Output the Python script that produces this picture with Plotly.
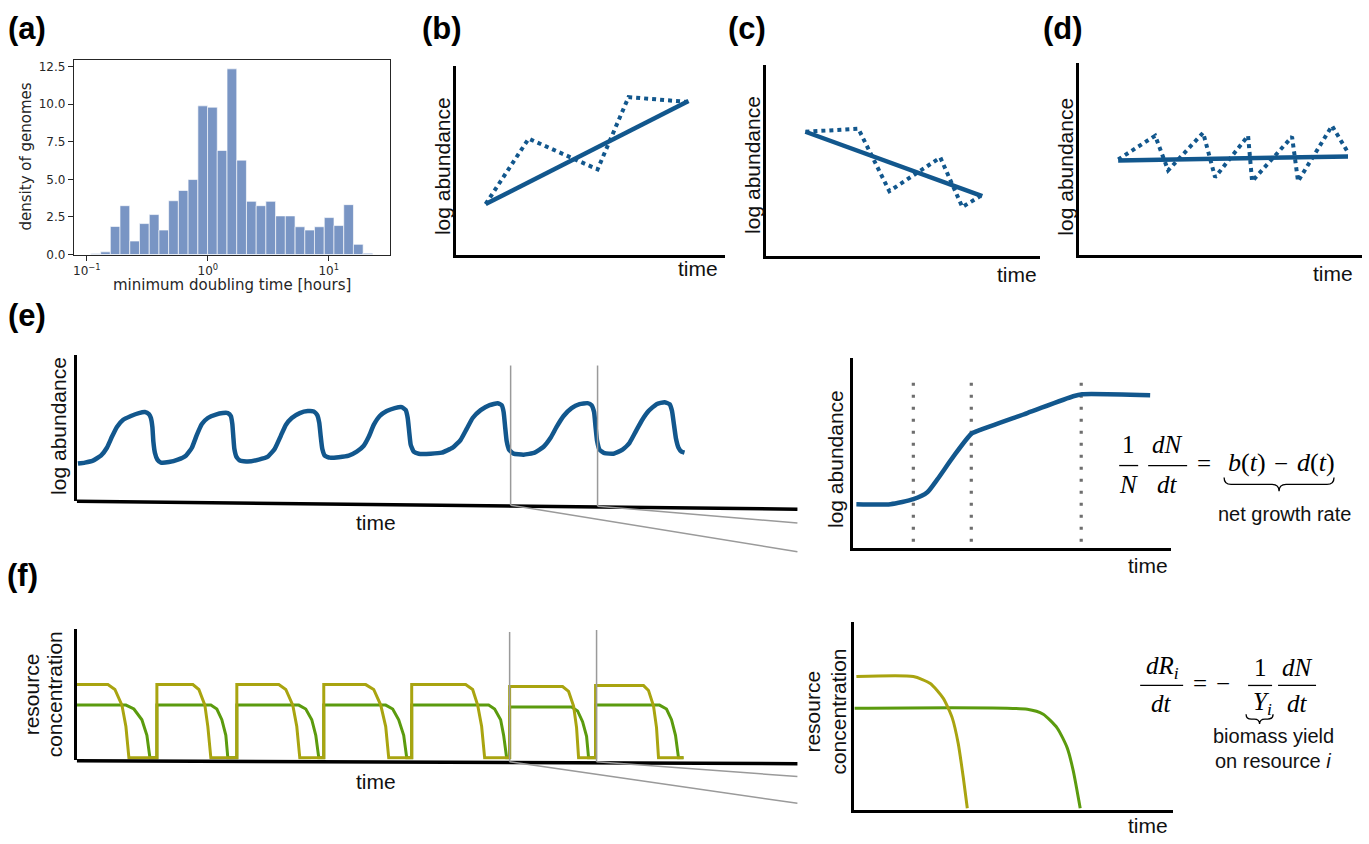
import plotly.graph_objects as go

W, H = 1369, 844

# ---------------- data ----------------
# (a) histogram of minimum doubling times (log10 hours bin centres, density)
hist_bin_centers_log10 = [-0.927, -0.846, -0.766, -0.686, -0.605, -0.525, -0.444, -0.364, -0.284,
                          -0.203, -0.123, -0.042, 0.038, 0.118, 0.199, 0.279, 0.360, 0.440,
                          0.520, 0.601, 0.681, 0.762, 0.842, 0.922, 1.003, 1.083, 1.164, 1.244, 1.324]
hist_density = [0.07, 0.18, 1.87, 3.25, 0.90, 2.06, 2.66, 1.63, 3.58, 4.26, 4.99, 9.89, 9.80,
                6.92, 12.35, 6.28, 3.54, 3.25, 3.54, 2.57, 2.57, 1.85, 1.63, 1.85, 2.46, 1.93,
                3.32, 0.68, 0.09]
hist_bin_width_log10 = 0.0804
hist_tick_vals = [-1, 0, 1]
hist_tick_text = ["10<sup>−1</sup>", "10<sup>0</sup>", "10<sup>1</sup>"]
hist_y_ticks = [0, 2.5, 5, 7.5, 10, 12.5]

# (b) growing population
b_trend_t = [3.0, 23.3]
b_trend_y = [5.1, 15.5]
b_fluct_t = [3.0, 7.3, 14.2, 17.3, 23.3]
b_fluct_y = [5.1, 11.7, 8.6, 15.9, 15.4]
# (c) declining population
c_trend_t = [3.9, 21.6]
c_trend_y = [12.5, 6.0]
c_fluct_t = [3.9, 9.2, 12.3, 17.4, 19.6, 21.4]
c_fluct_y = [12.5, 12.8, 6.5, 9.9, 4.9, 6.0]
# (d) steady population
d_trend_t = [3.9, 26.9]
d_trend_y = [9.5, 9.9]
d_fluct_t = [3.9, 7.6, 8.9, 12.4, 13.6, 16.9, 17.3, 21.3, 21.9, 25.3, 26.9]
d_fluct_y = [9.6, 12.0, 8.5, 12.3, 7.8, 12.0, 7.4, 11.9, 7.4, 13.0, 10.3]

# (e) serial dilution: log abundance over many cycles
e_time = [0.1, 0.8, 1.6, 2.4, 3.0, 3.5, 4.0, 4.6, 5.4, 6.2, 6.8, 7.2, 7.4, 7.55, 7.65, 7.8, 8.05, 8.4, 9.2,
          10.1, 10.9, 11.5, 12.0, 12.5, 13.1, 13.9, 14.6, 15.1, 15.4, 15.55, 15.65, 15.75, 15.95, 16.3, 17.1,
          18.2, 19.1, 19.8, 20.4, 20.9, 21.5, 22.3, 23.1, 23.7, 24.05, 24.25, 24.4, 24.55, 24.8, 25.3, 26.2,
          27.2, 28.0, 28.7, 29.2, 29.7, 30.3, 31.0, 31.8, 32.5, 32.9, 33.1, 33.25, 33.4, 33.7, 34.2, 35.4,
          36.5, 37.6, 38.4, 39.0, 39.6, 40.4, 41.3, 42.1, 42.5, 42.7, 42.85, 43.0, 43.25, 43.7, 44.7,
          45.8, 46.7, 47.4, 48.0, 48.7, 49.5, 50.3, 51.1, 51.5, 51.75, 51.9, 52.05, 52.3, 52.8, 53.7,
          54.6, 55.3, 55.9, 56.5, 57.2, 58.0, 58.8, 59.3, 59.55, 59.75, 59.95, 60.2, 60.5, 60.8]
e_logN = [3.8, 3.9, 4.1, 4.6, 5.4, 6.5, 7.5, 8.2, 8.6, 8.9, 9.0, 8.8, 8.4, 7.5, 6.0, 4.9, 4.2, 3.9, 3.95,
          4.2, 4.6, 5.4, 6.7, 7.8, 8.4, 8.75, 8.9, 8.9, 8.6, 7.8, 6.5, 5.3, 4.5, 4.1, 4.0,
          4.2, 4.5, 5.3, 6.6, 7.7, 8.4, 8.9, 9.1, 9.05, 8.7, 7.9, 6.5, 5.3, 4.6, 4.4, 4.45,
          4.6, 5.0, 5.6, 6.5, 7.7, 8.6, 9.1, 9.4, 9.5, 9.2, 8.4, 7.0, 5.7, 5.0, 4.8, 4.8,
          4.9, 5.4, 6.2, 7.3, 8.4, 9.2, 9.7, 9.9, 9.7, 9.0, 7.5, 6.1, 5.2, 4.8, 4.7,
          4.9, 5.5, 6.4, 7.5, 8.6, 9.4, 9.8, 9.9, 9.7, 9.0, 7.5, 6.1, 5.2, 4.85, 4.8,
          5.2, 5.9, 7.0, 8.1, 9.1, 9.8, 10.0, 9.8, 9.1, 7.7, 6.3, 5.4, 5.0, 4.9]
# (e) single cycle (zoom)
ez_time = [0.3, 3.7, 6.0, 7.4, 8.4, 10.0, 11.8, 12.7, 17.4, 22.0, 22.9, 29.7]
ez_logN = [4.4, 4.4, 4.9, 5.6, 6.9, 9.2, 11.5, 11.9, 13.6, 15.3, 15.5, 15.4]
ez_phase_bounds = [6.0, 11.8, 22.8]
ez_phase_span = [0.6, 17.5]

# (f) resource concentrations over many cycles
f_time_r1 = [0, 3.1, 3.8, 4.5, 4.9, 5.2, 8.0, 8.0, 11.6, 12.2, 12.8, 13.1, 13.4,
             16.0, 16.0, 20.2, 20.9, 21.6, 22.0, 22.3, 24.7, 24.7, 28.9, 29.7, 30.4, 30.9, 31.2,
             33.5, 33.5, 38.9, 39.6, 40.1, 40.5, 40.8, 43.3, 43.3, 48.6, 49.2, 49.7, 50.0, 50.2,
             51.9, 51.9, 56.7, 57.2, 57.7, 58.0, 58.2, 60.7]
f_R1 = [7.5, 7.5, 7.0, 5.4, 3.2, 0, 0, 7.5, 7.5, 7.0, 5.4, 3.2, 0,
        0, 7.5, 7.5, 7.0, 5.4, 3.2, 0, 0, 7.5, 7.5, 7.0, 5.4, 3.2, 0,
        0, 7.5, 7.5, 7.0, 5.4, 3.2, 0, 0, 7.3, 7.3, 6.8, 5.3, 3.1, 0,
        0, 7.4, 7.4, 6.9, 5.3, 3.1, 0, 0]
f_time_r2 = [0, 4.9, 5.7, 6.5, 7.0, 7.3, 8.0, 8.0, 13.4, 14.0, 14.5, 14.9, 15.1,
             16.0, 16.0, 22.2, 22.9, 23.5, 23.9, 24.2, 24.7, 24.7, 30.9, 31.6, 32.2, 32.7, 33.0,
             33.5, 33.5, 41.2, 41.8, 42.4, 42.7, 43.0, 43.3, 43.3, 49.5, 50.1, 50.6, 51.0, 51.2,
             51.9, 51.9, 58.3, 59.0, 59.5, 59.9, 60.2, 60.7]
f_R2 = [5.4, 5.4, 5.0, 3.9, 2.3, 0, 0, 5.4, 5.4, 5.0, 3.9, 2.3, 0,
        0, 5.4, 5.4, 5.0, 3.9, 2.3, 0, 0, 5.4, 5.4, 5.0, 3.9, 2.3, 0,
        0, 5.4, 5.4, 5.0, 3.9, 2.3, 0, 0, 5.2, 5.2, 4.8, 3.7, 2.2, 0,
        0, 5.4, 5.4, 5.0, 3.9, 2.3, 0, 0]
# (f) single cycle (zoom)
fz_time_r1 = [0.2, 5.9, 7.6, 8.9, 9.8, 10.4, 10.9, 11.3]
fz_R1 = [13.5, 13.5, 12.8, 11.3, 9.3, 6.7, 3.3, 0.2]
fz_time_r2 = [0.0, 17.3, 18.9, 20.3, 21.3, 21.9, 22.6]
fz_R2 = [10.3, 10.2, 9.7, 8.3, 6.3, 4.0, 0.2]

# ---------------- styling helpers ----------------
BLUE = '#12578d'
OLIVE = '#a9a410'
GREEN = '#5b9b0e'
GRAY = '#9a9a9a'
SANS = 'Liberation Sans'
SERIF = 'Liberation Serif'


def dom_x(x0, x1):
    return [x0 / W, x1 / W]


def dom_y(ytop, ybot):
    return [1 - ybot / H, 1 - ytop / H]


def PX(x):
    return x / W


def PY(y):
    return 1 - y / H


fig = go.Figure()

# (a) histogram
fig.add_trace(go.Bar(x=hist_bin_centers_log10, y=hist_density, width=hist_bin_width_log10,
                     marker=dict(color='rgba(76,114,176,0.75)', line=dict(color='rgba(255,255,255,0.8)', width=0.8)),
                     xaxis='x', yaxis='y'))

# schematic panels: axis id -> (x px extent, y px extent, show x line)
panels = {
    2: ((455, 725), (66, 256), True),
    3: ((766, 1040), (65, 257), True),
    4: ((1079, 1362), (63, 256), True),
    5: ((76, 797), (357, 505), False),
    6: ((853, 1171), (360, 552), True),
    7: ((76, 797), (634, 766), False),
    8: ((854, 1173), (627, 817), True),
}


def line_trace(ax, xs, ys, color, width, dash='solid', shape='linear', smoothing=None):
    ln = dict(color=color, width=width, dash=dash, shape=shape)
    if smoothing is not None:
        ln['smoothing'] = smoothing
    return go.Scatter(x=xs, y=ys, mode='lines', line=ln, xaxis=f'x{ax}', yaxis=f'y{ax}', hoverinfo='skip')


fig.add_trace(line_trace(2, b_fluct_t, b_fluct_y, BLUE, 4, dash='dot'))
fig.add_trace(line_trace(2, b_trend_t, b_trend_y, BLUE, 4.5))
fig.add_trace(line_trace(3, c_fluct_t, c_fluct_y, BLUE, 4, dash='dot'))
fig.add_trace(line_trace(3, c_trend_t, c_trend_y, BLUE, 4.5))
fig.add_trace(line_trace(4, d_fluct_t, d_fluct_y, BLUE, 4, dash='dot'))
fig.add_trace(line_trace(4, d_trend_t, d_trend_y, BLUE, 4.5))

fig.add_trace(line_trace(5, e_time, e_logN, BLUE, 4.5, shape='spline', smoothing=0.4))

for xb in ez_phase_bounds:
    fig.add_trace(line_trace(6, [xb, xb], ez_phase_span, '#6e6e6e', 3.2, dash='3px,9px'))
fig.add_trace(line_trace(6, ez_time, ez_logN, BLUE, 4.5, shape='spline', smoothing=0.6))

fig.add_trace(line_trace(7, f_time_r2, f_R2, GREEN, 3))
fig.add_trace(line_trace(7, f_time_r1, f_R1, OLIVE, 3))

fig.add_trace(line_trace(8, fz_time_r2, fz_R2, GREEN, 3, shape='spline', smoothing=0.6))
fig.add_trace(line_trace(8, fz_time_r1, fz_R1, OLIVE, 3, shape='spline', smoothing=0.6))

layout = dict(width=W, height=H, margin=dict(l=0, r=0, t=0, b=0), autosize=False,
              paper_bgcolor='white', plot_bgcolor='rgba(0,0,0,0)', showlegend=False)

# histogram axes
layout['xaxis'] = dict(domain=dom_x(73, 389), range=[-1.107, 1.504], tickvals=hist_tick_vals,
                       ticktext=hist_tick_text, ticks='outside', ticklen=5, tickwidth=1.2, tickcolor='#262626',
                       showline=True, mirror=True, linecolor='#262626', linewidth=1.2, showgrid=False,
                       zeroline=False, tickfont=dict(family='DejaVu Sans', size=12, color='#262626'),
                       anchor='y', fixedrange=True)
layout['yaxis'] = dict(domain=dom_y(60, 256), range=[0, 12.91], tickvals=hist_y_ticks, tickformat='.1f',
                       ticks='outside', ticklen=5, tickwidth=1.2, tickcolor='#262626',
                       showline=True, mirror=True, linecolor='#262626', linewidth=1.2, showgrid=False,
                       zeroline=False, tickfont=dict(family='DejaVu Sans', size=12, color='#262626'),
                       anchor='x', fixedrange=True)

for ax, ((x0, x1), (yt, yb), showx) in panels.items():
    ybase = -0.2 if ax == 7 else 0
    layout[f'xaxis{ax}'] = dict(domain=dom_x(x0, x1), range=[0, (x1 - x0) / 10], anchor=f'y{ax}',
                                showgrid=False, zeroline=False, showticklabels=False, ticks='',
                                showline=showx, linecolor='black', linewidth=3, fixedrange=True)
    layout[f'yaxis{ax}'] = dict(domain=dom_y(yt, yb), range=[ybase, (yb - yt) / 10], anchor=f'x{ax}',
                                showgrid=False, zeroline=False, showticklabels=False, ticks='',
                                showline=True, linecolor='black', linewidth=3, fixedrange=True)

annotations = []


def ann(text, x, y, size=21, rot=0, family=SANS, color='#111111', xanchor='center', yanchor='middle'):
    annotations.append(dict(text=text, x=PX(x), y=PY(y), xref='paper', yref='paper', showarrow=False,
                            textangle=rot, xanchor=xanchor, yanchor=yanchor,
                            font=dict(family=family, size=size, color=color)))


# panel letters
for lab, x, y in [('(a)', 26, 28), ('(b)', 441, 28), ('(c)', 747, 28), ('(d)', 1063, 28),
                  ('(e)', 26, 318), ('(f)', 22, 580)]:
    ann(f'<b>{lab}</b>', x, y, size=31, color='black')

# histogram titles
ann('density of genomes', 25, 157, size=15, rot=-90, family='DejaVu Sans', color='#262626')
ann('minimum doubling time [hours]', 231, 287, size=15, family='DejaVu Sans', color='#262626')

# schematic axis labels
for x, y in [(442, 167), (752, 165), (1065, 167), (58, 429), (835, 462)]:
    ann('log abundance', x, y, rot=-90)
for x, y in [(698, 270), (1017, 276), (1333, 275), (375, 526), (1148, 570), (375, 788), (1148, 832)]:
    ann('time', x, y)
for xr, xc, y in [(30, 53, 700), (812, 838, 717)]:
    ann('resource', xr, y, rot=-90)
    ann('concentration', xc, y, rot=-90)

# equation 1
MS = 25
ann('1', 1128, 448, size=MS, family=SERIF, color='black')
ann('<i>N</i>', 1128, 488, size=MS, family=SERIF, color='black')
ann('<i>dN</i>', 1167, 448, size=MS, family=SERIF, color='black')
ann('<i>dt</i>', 1167, 488, size=MS, family=SERIF, color='black')
ann('=', 1204, 467, size=MS, family=SERIF, color='black')
ann('<i>b</i>(<i>t</i>)', 1247, 466, size=26, family=SERIF, color='black')
ann('−', 1281, 467, size=MS, family=SERIF, color='black')
ann('<i>d</i>(<i>t</i>)', 1316, 466, size=26, family=SERIF, color='black')
ann('net growth rate', 1284, 518, size=20)

# equation 2
ann('<i>dR<sub>i</sub></i>', 1162, 673, size=MS, family=SERIF, color='black')
ann('<i>dt</i>', 1161, 709, size=MS, family=SERIF, color='black')
ann('=', 1200, 689, size=MS, family=SERIF, color='black')
ann('−', 1223, 689, size=MS, family=SERIF, color='black')
ann('1', 1260, 673, size=MS, family=SERIF, color='black')
ann('<i>Y<sub>i</sub></i>', 1262, 709, size=MS, family=SERIF, color='black')
ann('<i>dN</i>', 1297, 673, size=MS, family=SERIF, color='black')
ann('<i>dt</i>', 1297, 709, size=MS, family=SERIF, color='black')
ann('biomass yield', 1273, 742, size=20)
ann('on resource <i>i</i>', 1273, 767, size=20)

layout['annotations'] = annotations

shapes = []


def seg(x0, y0, x1, y1, color='black', width=1.3):
    shapes.append(dict(type='line', xref='paper', yref='paper', x0=PX(x0), y0=PY(y0), x1=PX(x1), y1=PY(y1),
                       line=dict(color=color, width=width)))


def brace(x0, x1, y0, h):
    xm = (x0 + x1) / 2
    r = min(7, (x1 - x0) / 5)
    ym = y0 + h / 2
    pts = [('M', x0, y0), ('Q', x0, ym), ('', x0 + r, ym), ('L', xm - r, ym), ('Q', xm, ym), ('', xm, y0 + h),
           ('Q', xm, ym), ('', xm + r, ym), ('L', x1 - r, ym), ('Q', x1, ym), ('', x1, y0)]
    path = ''
    for cmd, x, y in pts:
        path += f'{cmd}{PX(x):.5f},{PY(y):.5f} '
    shapes.append(dict(type='path', xref='paper', yref='paper', path=path.strip(),
                       line=dict(color='black', width=1.3)))


# fraction bars
seg(1119, 469, 1138, 469)
seg(1148, 469, 1187, 469)
seg(1140, 691, 1183, 691)
seg(1248, 691, 1272, 691)
seg(1278, 691, 1316, 691)
brace(1224, 1334, 481, 14)
brace(1246, 1273, 720, 10)

# slanted / long bottom axes
seg(76, 505, 797, 513, 'black', 3.5)
seg(76, 767, 797, 770, 'black', 3.5)

# zoom indicator lines
seg(510, 368, 510, 509, GRAY, 1.5)
seg(597, 368, 597, 510, GRAY, 1.5)
seg(510, 509, 797, 556, GRAY, 1.5)
seg(597, 510, 797, 527, GRAY, 1.5)
seg(509, 637, 509, 768, GRAY, 1.5)
seg(596, 635, 596, 768, GRAY, 1.5)
seg(509, 768, 797, 810, GRAY, 1.5)
seg(596, 768, 797, 783, GRAY, 1.5)

layout['shapes'] = shapes
fig.update_layout(**layout)

fig.write_html('out.html', config={'displayModeBar': False},
               post_script="document.body.style.margin='0px';")
